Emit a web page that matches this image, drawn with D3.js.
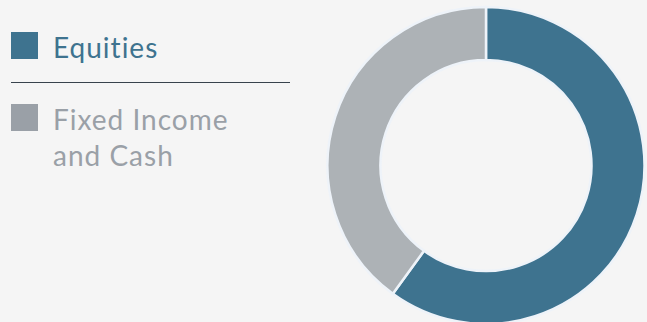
<!DOCTYPE html>
<html><head><meta charset="utf-8">
<script src="https://cdn.jsdelivr.net/npm/d3@7"></script>
<style>html,body{margin:0;padding:0;background:#f5f5f5;}svg{display:block;}text{font-variant-ligatures:none;}</style>
</head><body>
<svg id="c" width="647" height="322"></svg>
<script>
const categories = ["Equities", "Fixed Income and Cash"];
const values = [60, 40];
const legendLines = [["Equities"], ["Fixed Income", "and Cash"]];
const colors = ["#3e738f", "#adb2b6"];
const textColors = ["#3e738f", "#9aa0a7"];
const legendSquare = ["#3e738f", "#9aa0a7"];

const svg = d3.select("#c");
svg.append("rect").attr("width", 647).attr("height", 322).attr("fill", "#f5f5f5");

const cx = 486, cy = 165.5, rOuter = 158.5, rInner = 105.5;
const pie = d3.pie().sort(null).value(d => d)(values);
const arc = d3.arc().innerRadius(rInner).outerRadius(rOuter);
const g = svg.append("g").attr("transform", `translate(${cx},${cy})`);
g.selectAll("path").data(pie).join("path")
  .attr("d", arc)
  .attr("fill", (d, i) => colors[i])
  .attr("stroke", "#eef3f9")
  .attr("stroke-width", 2.5);

const font = "Lato, 'Open Sans', sans-serif";
const lg = svg.append("g");
const ys = [32, 104];
categories.forEach((c, i) => {
  lg.append("rect").attr("x", 11).attr("y", ys[i]).attr("width", 27).attr("height", 27).attr("fill", legendSquare[i]);
  const t = lg.append("text").attr("x", 53).attr("y", ys[i] + 26)
    .attr("font-family", font).attr("font-size", 28).attr("letter-spacing", 1)
    .attr("fill", textColors[i]);
  legendLines[i].forEach((l, j) => {
    t.append("tspan").attr("x", 53).attr("dy", j === 0 ? 0 : 36).text(l);
  });
});
lg.append("line").attr("x1", 11).attr("x2", 290).attr("y1", 82.5).attr("y2", 82.5)
  .attr("stroke", "#38434d").attr("stroke-width", 1);
</script>
</body></html>
